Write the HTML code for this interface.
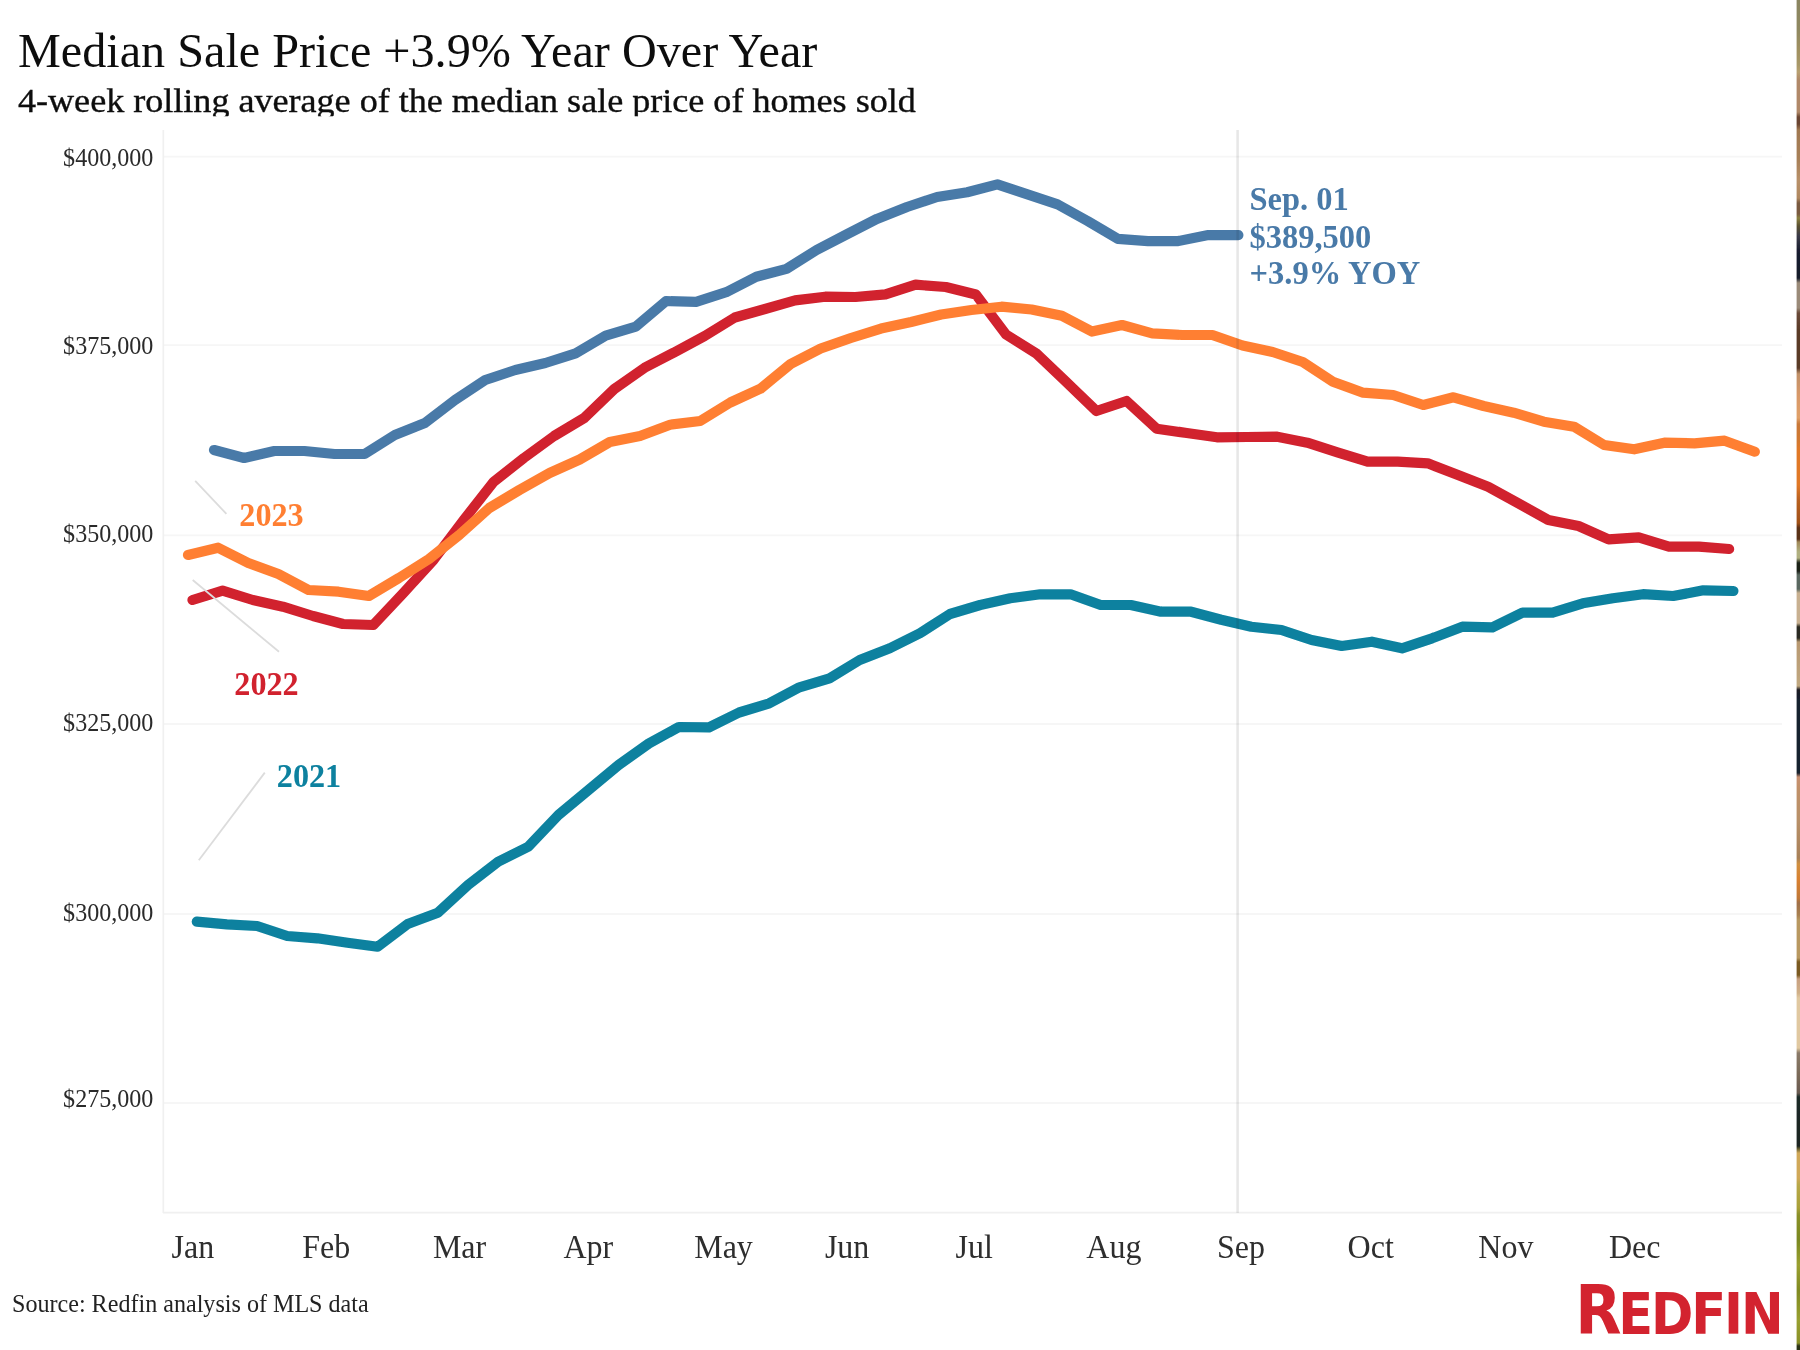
<!DOCTYPE html>
<html lang="en"><head><meta charset="utf-8"><title>Median Sale Price +3.9% Year Over Year</title>
<style>
html,body{margin:0;padding:0;background:#fff;}
body{width:1800px;height:1350px;overflow:hidden;position:relative;font-family:"Liberation Serif",serif;}
svg{position:absolute;left:0;top:0;display:block;}
text{font-family:"Liberation Serif",serif;}
.ax{font-size:24.1px;fill:#2a2a2a;}
.mo{font-size:32px;fill:#2e2e2e;}
.lab{font-size:32.5px;font-weight:bold;}
#logo{position:absolute;left:1575.2px;top:1260.6px;height:100px;line-height:100px;white-space:nowrap;font-family:"DejaVu Sans Condensed","Liberation Sans",sans-serif;font-weight:bold;font-size:56.7px;letter-spacing:-2.1px;color:#d3232f;filter:blur(0.55px);}
#logo::first-letter{font-size:66.8px;letter-spacing:-3.2px;}
.ln{fill:none;stroke-width:10.2;stroke-linecap:round;stroke-linejoin:round;}
</style></head><body>
<svg width="1800" height="1350" viewBox="0 0 1800 1350">
<defs>
<linearGradient id="strip" x1="0" y1="0" x2="0" y2="1350" gradientUnits="userSpaceOnUse">
<stop offset="0.0000" stop-color="#8a8560"/>
<stop offset="0.0222" stop-color="#8f8860"/>
<stop offset="0.0370" stop-color="#a09060"/>
<stop offset="0.0481" stop-color="#a89868"/>
<stop offset="0.0533" stop-color="#b8a070"/>
<stop offset="0.0593" stop-color="#b08868"/>
<stop offset="0.0830" stop-color="#b08868"/>
<stop offset="0.0867" stop-color="#6a4530"/>
<stop offset="0.0919" stop-color="#6a4530"/>
<stop offset="0.0963" stop-color="#a07850"/>
<stop offset="0.1185" stop-color="#a88058"/>
<stop offset="0.1333" stop-color="#b89068"/>
<stop offset="0.1467" stop-color="#b08860"/>
<stop offset="0.1504" stop-color="#7a5a40"/>
<stop offset="0.1585" stop-color="#7a5a40"/>
<stop offset="0.1615" stop-color="#8a8040"/>
<stop offset="0.1674" stop-color="#5a5030"/>
<stop offset="0.1748" stop-color="#3a3a48"/>
<stop offset="0.1852" stop-color="#1a1e30"/>
<stop offset="0.2059" stop-color="#151a2a"/>
<stop offset="0.2096" stop-color="#9a8a78"/>
<stop offset="0.2281" stop-color="#9a8a78"/>
<stop offset="0.2319" stop-color="#6a4a38"/>
<stop offset="0.2444" stop-color="#5a3a28"/>
<stop offset="0.2726" stop-color="#5a3a28"/>
<stop offset="0.2770" stop-color="#c09068"/>
<stop offset="0.2926" stop-color="#d89868"/>
<stop offset="0.3096" stop-color="#e0a068"/>
<stop offset="0.3141" stop-color="#c87838"/>
<stop offset="0.3259" stop-color="#d07830"/>
<stop offset="0.3333" stop-color="#e07828"/>
<stop offset="0.3593" stop-color="#e07828"/>
<stop offset="0.3704" stop-color="#b86020"/>
<stop offset="0.3874" stop-color="#a05018"/>
<stop offset="0.3911" stop-color="#5a3018"/>
<stop offset="0.3993" stop-color="#5a3018"/>
<stop offset="0.4015" stop-color="#a08858"/>
<stop offset="0.4089" stop-color="#b0b080"/>
<stop offset="0.4133" stop-color="#b0b080"/>
<stop offset="0.4170" stop-color="#1a2018"/>
<stop offset="0.4230" stop-color="#1a2018"/>
<stop offset="0.4259" stop-color="#5a6860"/>
<stop offset="0.4363" stop-color="#5a6860"/>
<stop offset="0.4393" stop-color="#c8b090"/>
<stop offset="0.4615" stop-color="#c8b090"/>
<stop offset="0.4644" stop-color="#2a2a20"/>
<stop offset="0.4726" stop-color="#2a2a20"/>
<stop offset="0.4756" stop-color="#b89870"/>
<stop offset="0.5081" stop-color="#c0a880"/>
<stop offset="0.5111" stop-color="#1a1a22"/>
<stop offset="0.5185" stop-color="#18202e"/>
<stop offset="0.5726" stop-color="#18202e"/>
<stop offset="0.5756" stop-color="#c89070"/>
<stop offset="0.5852" stop-color="#c09068"/>
<stop offset="0.6074" stop-color="#b89068"/>
<stop offset="0.6356" stop-color="#a88058"/>
<stop offset="0.6400" stop-color="#d09040"/>
<stop offset="0.6519" stop-color="#d88030"/>
<stop offset="0.6652" stop-color="#c07838"/>
<stop offset="0.6689" stop-color="#a07048"/>
<stop offset="0.6778" stop-color="#a88050"/>
<stop offset="0.6815" stop-color="#b89860"/>
<stop offset="0.7096" stop-color="#b89860"/>
<stop offset="0.7126" stop-color="#7a5a20"/>
<stop offset="0.7222" stop-color="#7a5a20"/>
<stop offset="0.7252" stop-color="#c8a080"/>
<stop offset="0.7356" stop-color="#d0b088"/>
<stop offset="0.7393" stop-color="#e0c8a0"/>
<stop offset="0.7763" stop-color="#e0c8a0"/>
<stop offset="0.7800" stop-color="#8a7a68"/>
<stop offset="0.7963" stop-color="#7a6a58"/>
<stop offset="0.8096" stop-color="#6a5a50"/>
<stop offset="0.8126" stop-color="#1a2a28"/>
<stop offset="0.8489" stop-color="#1a2420"/>
<stop offset="0.8511" stop-color="#6a6030"/>
<stop offset="0.8541" stop-color="#d0a858"/>
<stop offset="0.8726" stop-color="#d0a858"/>
<stop offset="0.8778" stop-color="#b8a848"/>
<stop offset="0.8948" stop-color="#a8a038"/>
<stop offset="0.9000" stop-color="#8a9028"/>
<stop offset="0.9185" stop-color="#7a8820"/>
<stop offset="0.9370" stop-color="#9aa030"/>
<stop offset="0.9556" stop-color="#808a22"/>
<stop offset="0.9778" stop-color="#98a030"/>
<stop offset="0.9948" stop-color="#8a9028"/>
<stop offset="0.9970" stop-color="#2a3018"/>
<stop offset="1.0000" stop-color="#2a3018"/>
</linearGradient><filter id="soft" filterUnits="userSpaceOnUse" x="-20" y="-20" width="1840" height="1390"><feGaussianBlur stdDeviation="0.55"/></filter><clipPath id="subclip"><rect x="0" y="80" width="1000" height="36.3"/></clipPath></defs>
<rect x="-20" y="-20" width="1840" height="1390" fill="#fff"/>
<g filter="url(#soft)">
<text x="18" y="67.1" font-size="48.2" fill="#111">Median Sale Price +3.9% Year Over Year</text>
<g clip-path="url(#subclip)"><text x="18" y="112.2" font-size="36.1" fill="#111" stroke="#111" stroke-width="0.4" transform="matrix(1 0 0 0.945 0 6.17)">4-week rolling average of the median sale price of homes sold</text></g>
<line x1="163" y1="156.6" x2="1782" y2="156.6" stroke="#f6f6f6" stroke-width="1.8"/>
<line x1="163" y1="345.2" x2="1782" y2="345.2" stroke="#f6f6f6" stroke-width="1.8"/>
<line x1="163" y1="535.4" x2="1782" y2="535.4" stroke="#f6f6f6" stroke-width="1.8"/>
<line x1="163" y1="724" x2="1782" y2="724" stroke="#f6f6f6" stroke-width="1.8"/>
<line x1="163" y1="914" x2="1782" y2="914" stroke="#f6f6f6" stroke-width="1.8"/>
<line x1="163" y1="1103" x2="1782" y2="1103" stroke="#f6f6f6" stroke-width="1.8"/>
<line x1="163.3" y1="130" x2="163.3" y2="1213" stroke="#f0f0f0" stroke-width="1.7"/>
<line x1="163" y1="1212.7" x2="1782" y2="1212.7" stroke="#f0f0f0" stroke-width="1.7"/>
<text class="ax" x="153.4" y="165.8" text-anchor="end" transform="matrix(1 0 0 1.07 0 -11.61)">$400,000</text>
<text class="ax" x="153.4" y="353.6" text-anchor="end" transform="matrix(1 0 0 1.07 0 -24.75)">$375,000</text>
<text class="ax" x="153.4" y="541.6" text-anchor="end" transform="matrix(1 0 0 1.07 0 -37.91)">$350,000</text>
<text class="ax" x="153.4" y="730.8" text-anchor="end" transform="matrix(1 0 0 1.07 0 -51.16)">$325,000</text>
<text class="ax" x="153.4" y="921.2" text-anchor="end" transform="matrix(1 0 0 1.07 0 -64.48)">$300,000</text>
<text class="ax" x="153.4" y="1107.4" text-anchor="end" transform="matrix(1 0 0 1.07 0 -77.52)">$275,000</text>
<text class="mo" x="171.5" y="1258.2" transform="matrix(1 0 0 1.08 0 -100.66)">Jan</text>
<text class="mo" x="302.2" y="1258.2" transform="matrix(1 0 0 1.08 0 -100.66)">Feb</text>
<text class="mo" x="432.9" y="1258.2" transform="matrix(1 0 0 1.08 0 -100.66)">Mar</text>
<text class="mo" x="563.5" y="1258.2" transform="matrix(1 0 0 1.08 0 -100.66)">Apr</text>
<text class="mo" x="694.2" y="1258.2" transform="matrix(1 0 0 1.08 0 -100.66)">May</text>
<text class="mo" x="824.9" y="1258.2" transform="matrix(1 0 0 1.08 0 -100.66)">Jun</text>
<text class="mo" x="955.6" y="1258.2" transform="matrix(1 0 0 1.08 0 -100.66)">Jul</text>
<text class="mo" x="1086.3" y="1258.2" transform="matrix(1 0 0 1.08 0 -100.66)">Aug</text>
<text class="mo" x="1216.9" y="1258.2" transform="matrix(1 0 0 1.08 0 -100.66)">Sep</text>
<text class="mo" x="1347.6" y="1258.2" transform="matrix(1 0 0 1.08 0 -100.66)">Oct</text>
<text class="mo" x="1478.3" y="1258.2" transform="matrix(1 0 0 1.08 0 -100.66)">Nov</text>
<text class="mo" x="1609.0" y="1258.2" transform="matrix(1 0 0 1.08 0 -100.66)">Dec</text>
<line x1="195.2" y1="480.8" x2="226.4" y2="513.8" stroke="#dcdcdc" stroke-width="1.8"/>
<polyline class="ln" stroke="#0a819f" points="196.8,921.7 226.9,924.3 257.1,926.0 287.2,936.0 317.3,938.3 347.5,942.7 377.6,946.7 407.7,924.0 437.8,912.7 468.0,885.0 498.1,861.7 528.2,846.7 558.4,815.0 588.5,790.0 618.6,765.0 648.8,743.5 678.9,727.0 709.0,727.4 739.1,712.5 769.3,703.3 799.4,687.3 829.5,678.3 859.7,660.0 889.8,648.3 919.9,633.3 950.0,614.0 980.2,605.0 1010.3,598.3 1040.4,594.3 1070.6,594.3 1100.7,605.0 1130.8,605.0 1161.0,611.7 1191.1,611.7 1221.2,619.7 1251.3,626.7 1281.5,630.0 1311.6,640.0 1341.7,646.0 1371.9,641.7 1402.0,648.3 1432.1,638.3 1462.3,626.7 1492.4,627.3 1522.5,612.7 1552.6,612.7 1582.8,603.3 1612.9,598.3 1643.0,594.2 1673.2,596.0 1703.3,590.3 1733.4,591.0"/>
<polyline class="ln" stroke="#d1202f" points="192.5,600.0 222.6,590.7 252.8,600.0 282.9,606.7 313.0,616.0 343.1,624.0 373.3,625.0 403.4,593.0 433.5,560.0 463.7,520.0 493.8,481.7 523.9,458.0 554.1,436.0 584.2,418.0 614.3,389.0 644.5,367.8 674.6,352.2 704.7,336.0 734.8,317.5 765.0,309.0 795.1,300.4 825.2,296.7 855.4,297.0 885.5,294.4 915.6,284.7 945.8,287.0 975.9,294.5 1006.0,334.5 1036.1,353.3 1066.3,382.0 1096.4,411.0 1126.5,401.0 1156.7,428.7 1186.8,433.0 1216.9,437.3 1247.0,437.0 1277.2,436.7 1307.3,442.7 1337.4,452.3 1367.6,461.7 1397.7,461.7 1427.8,463.3 1458.0,475.0 1488.1,486.7 1518.2,503.3 1548.3,520.0 1578.5,526.0 1608.6,539.3 1638.7,537.3 1668.9,546.7 1699.0,546.7 1729.1,549.0"/>
<polyline class="ln" stroke="#ff7f32" points="188.0,555.0 218.1,547.7 248.3,563.0 278.4,574.0 308.5,590.0 338.6,591.7 368.8,596.0 398.9,578.0 429.0,559.0 459.2,535.0 489.3,508.0 519.4,490.0 549.6,473.0 579.7,459.5 609.8,442.0 640.0,436.0 670.1,424.7 700.2,421.0 730.3,402.5 760.5,388.7 790.6,364.0 820.7,348.5 850.9,338.0 881.0,328.6 911.1,322.0 941.2,314.5 971.4,310.0 1001.5,306.7 1031.6,309.5 1061.8,315.8 1091.9,331.6 1122.0,325.0 1152.2,333.3 1182.3,335.0 1212.4,335.0 1242.5,345.5 1272.7,352.0 1302.8,362.0 1332.9,381.7 1363.1,392.7 1393.2,395.0 1423.3,405.0 1453.5,397.3 1483.6,406.0 1513.7,412.7 1543.8,421.7 1574.0,426.7 1604.1,445.0 1634.2,449.3 1664.4,442.7 1694.5,443.3 1724.6,440.7 1754.8,451.7"/>
<polyline class="ln" stroke="#4a7aa8" points="214.0,450.0 244.1,458.0 274.3,451.0 304.4,451.0 334.5,454.0 364.6,454.0 394.8,435.0 424.9,423.0 455.0,400.0 485.2,380.0 515.3,370.0 545.4,363.0 575.6,353.3 605.7,335.6 635.8,326.7 666.0,301.1 696.1,301.8 726.2,292.2 756.3,276.7 786.5,268.9 816.6,250.0 846.7,234.4 876.9,218.9 907.0,207.0 937.1,197.0 967.2,192.2 997.4,184.4 1027.5,194.4 1057.6,204.4 1087.8,221.1 1117.9,238.9 1148.0,241.1 1178.2,241.1 1208.3,235.1 1238.4,235.1"/>
<line x1="192.7" y1="580" x2="279" y2="651.8" stroke="#dcdcdc" stroke-width="1.8"/>
<line x1="264.8" y1="772.6" x2="198.8" y2="860.2" stroke="#dcdcdc" stroke-width="1.8"/>
<line x1="1237.6" y1="130" x2="1237.6" y2="1213" stroke="#000" stroke-opacity="0.095" stroke-width="2.6"/>
<text class="lab" x="239.3" y="526.4" transform="matrix(1 0 0 1.07 0 -36.85)" style="font-size:32.2px" fill="#ff7f32">2023</text>
<text class="lab" x="234.3" y="694.8" transform="matrix(1 0 0 1.07 0 -48.64)" style="font-size:32.2px" fill="#d1202f">2022</text>
<text class="lab" x="276.8" y="787.3" transform="matrix(1 0 0 1.07 0 -55.11)" style="font-size:32.2px" fill="#0a819f">2021</text>
<text class="lab" x="1249.5" y="209.8" transform="matrix(1 0 0 1.03 0 -6.29)" fill="#4a7aa8">Sep. 01</text>
<text class="lab" x="1249.5" y="247.6" transform="matrix(1 0 0 1.03 0 -7.43)" fill="#4a7aa8">$389,500</text>
<text class="lab" x="1249.5" y="283.7" transform="matrix(1 0 0 1.03 0 -8.51)" fill="#4a7aa8">+3.9% YOY</text>
<text x="12" y="1312.3" font-size="24.1" fill="#222" transform="matrix(1 0 0 1.08 0 -104.98)">Source: Redfin analysis of MLS data</text>
<rect x="1796.6" y="-10" width="13.4" height="1370" fill="url(#strip)"/>
</g>
</svg>
<div id="logo">REDFIN</div>
</body></html>
